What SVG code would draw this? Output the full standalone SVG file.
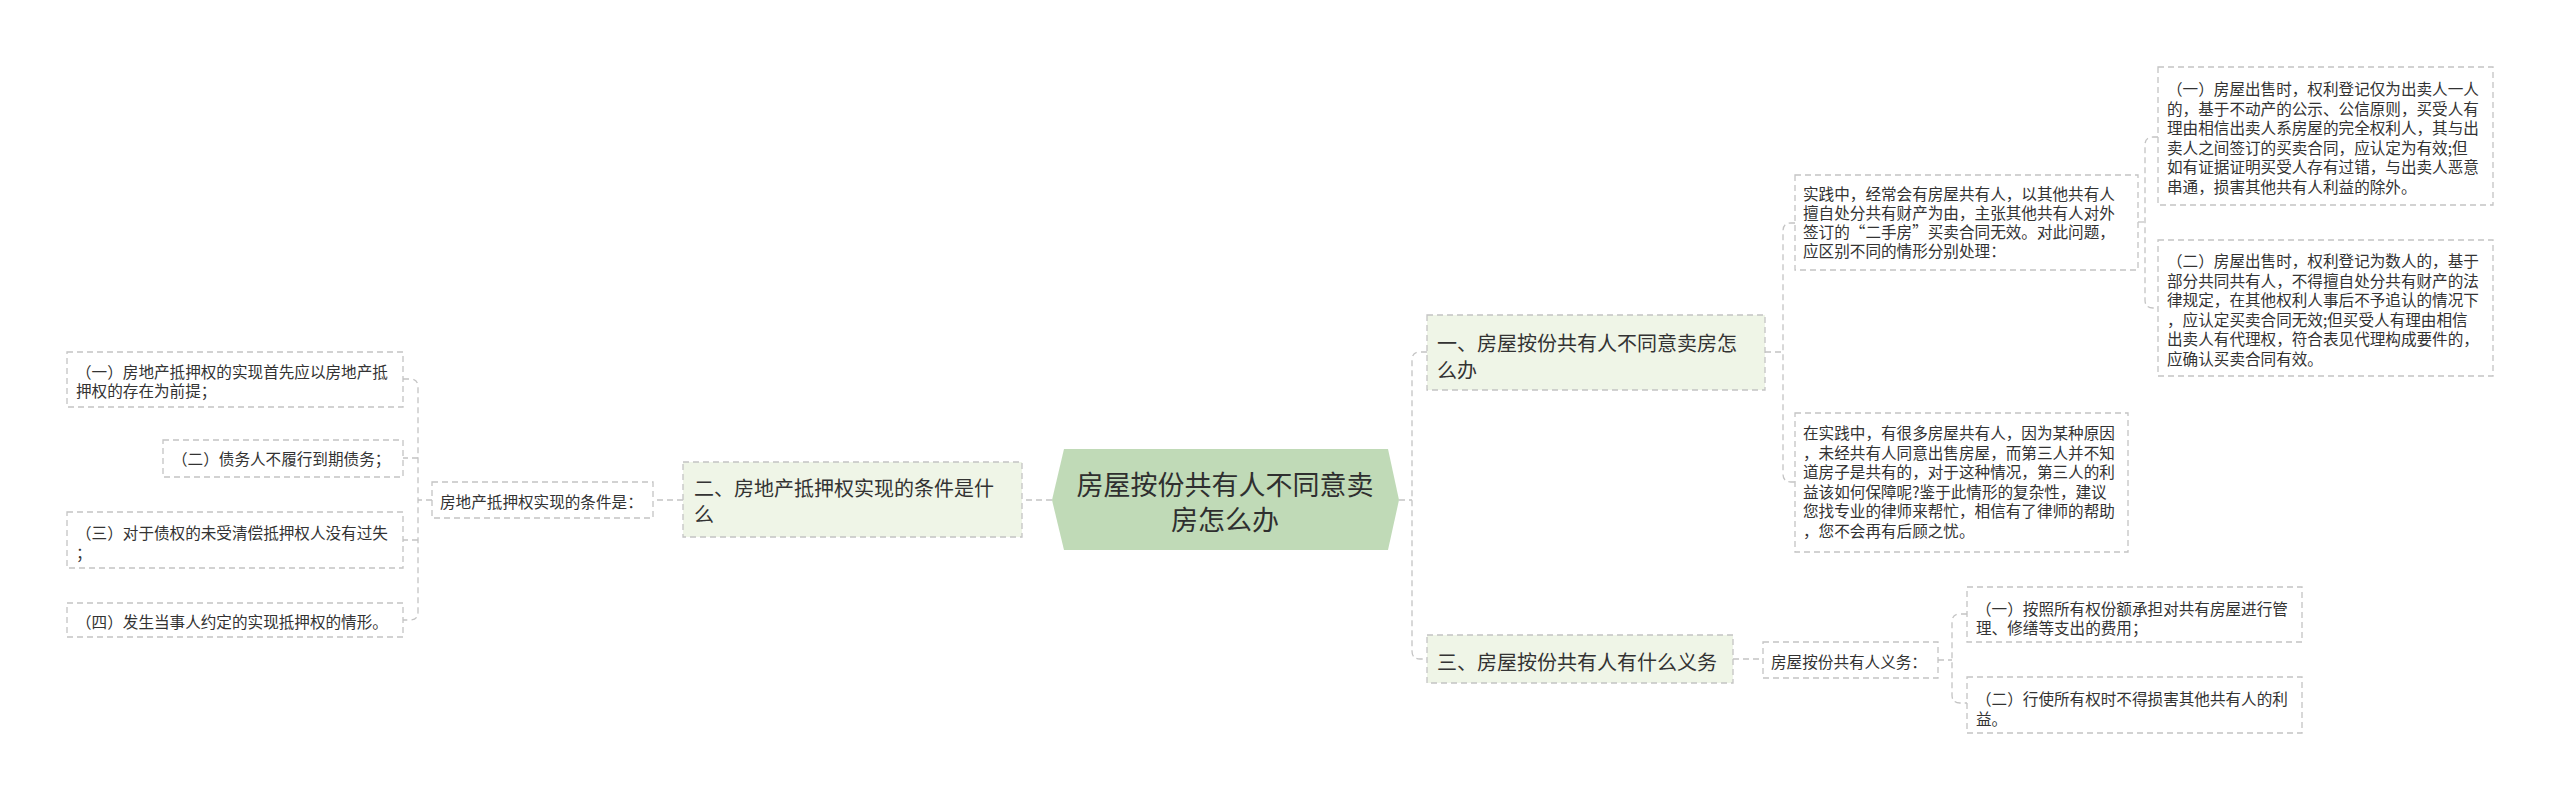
<svg xmlns="http://www.w3.org/2000/svg" width="2560" height="802" viewBox="0 0 2560 802">
<style>
text{font-family:"Noto Sans CJK SC","Noto Sans",sans-serif;fill:#333;dominant-baseline:central}
.leaf{fill:#fff;stroke:#c4c4c4;stroke-width:1.3;stroke-dasharray:6 4}
.main{fill:#eff5e7;stroke:#c4c4c4;stroke-width:1.3;stroke-dasharray:6 4}
.t1{font-size:20px}
.t2{font-size:15.6px}
.tc{font-size:27px;text-anchor:middle;fill:#2f2f2f}
.conn path{fill:none;stroke:#c4c4c4;stroke-width:1.3;stroke-dasharray:6 4}
</style>
<rect width="2560" height="802" fill="#fff"/>
<g class="conn">
<path d="M1052,500 H1022"/>
<path d="M683,500 H653"/>
<path d="M432,500 H418"/>
<path d="M403,379 H410 Q418,379 418,387 V612 Q418,620 410,620 H403"/>
<path d="M418,458 H403"/>
<path d="M418,540 H403"/>
<path d="M1399,500 H1412"/>
<path d="M1427,352 H1420 Q1412,352 1412,360 V651 Q1412,659 1420,659 H1427"/>
<path d="M1765,352 H1783"/>
<path d="M1795,223 H1791 Q1783,223 1783,231 V474 Q1783,482 1791,482 H1795"/>
<path d="M2138,222 H2145"/>
<path d="M2158,137 H2153 Q2145,137 2145,145 V300 Q2145,308 2153,308 H2158"/>
<path d="M1733,659 H1763"/>
<path d="M1938,660 H1952"/>
<path d="M1967,614 H1960 Q1952,614 1952,622 V695 Q1952,703 1960,703 H1967"/>
</g>
<g id="center">
<polygon points="1052,500 1064,449 1388,449 1399,500 1388,550 1064,550" fill="#c0dab7"/>
<text class="tc" x="1225" y="483">房屋按份共有人不同意卖</text>
<text class="tc" x="1225" y="518">房怎么办</text>
</g>
<g id="n2">
<rect class="main" x="683" y="462" width="339" height="75"/>
<text class="t1" x="694" y="487">二、房地产抵押权实现的条件是什</text>
<text class="t1" x="694" y="513">么</text>
</g>
<g id="n2a">
<rect class="leaf" x="432" y="482" width="221" height="36"/>
<text class="t2" x="440" y="501">房地产抵押权实现的条件是：</text>
</g>
<g id="n2a1">
<rect class="leaf" x="67" y="352" width="336" height="55"/>
<text class="t2" x="76" y="371">（一）房地产抵押权的实现首先应以房地产抵</text>
<text class="t2" x="76" y="390">押权的存在为前提；</text>
</g>
<g id="n2a2">
<rect class="leaf" x="163" y="440" width="240" height="37"/>
<text class="t2" x="172" y="458">（二）债务人不履行到期债务；</text>
</g>
<g id="n2a3">
<rect class="leaf" x="67" y="512" width="336" height="56"/>
<text class="t2" x="76" y="532">（三）对于债权的未受清偿抵押权人没有过失</text>
<text class="t2" x="76" y="552">；</text>
</g>
<g id="n2a4">
<rect class="leaf" x="67" y="603" width="336" height="34"/>
<text class="t2" x="76" y="621">（四）发生当事人约定的实现抵押权的情形。</text>
</g>
<g id="n1">
<rect class="main" x="1427" y="315" width="338" height="75"/>
<text class="t1" x="1437" y="342">一、房屋按份共有人不同意卖房怎</text>
<text class="t1" x="1437" y="369">么办</text>
</g>
<g id="n1a">
<rect class="leaf" x="1795" y="175" width="343" height="95"/>
<text class="t2" x="1803" y="193">实践中，经常会有房屋共有人，以其他共有人</text>
<text class="t2" x="1803" y="212">擅自处分共有财产为由，主张其他共有人对外</text>
<text class="t2" x="1803" y="231">签订的“二手房”买卖合同无效。对此问题，</text>
<text class="t2" x="1803" y="250">应区别不同的情形分别处理：</text>
</g>
<g id="n1a1">
<rect class="leaf" x="2158" y="67" width="335" height="138"/>
<text class="t2" x="2167" y="88">（一）房屋出售时，权利登记仅为出卖人一人</text>
<text class="t2" x="2167" y="107.5">的，基于不动产的公示、公信原则，买受人有</text>
<text class="t2" x="2167" y="127">理由相信出卖人系房屋的完全权利人，其与出</text>
<text class="t2" x="2167" y="146.5">卖人之间签订的买卖合同，应认定为有效;但</text>
<text class="t2" x="2167" y="166">如有证据证明买受人存有过错，与出卖人恶意</text>
<text class="t2" x="2167" y="185.5">串通，损害其他共有人利益的除外。</text>
</g>
<g id="n1a2">
<rect class="leaf" x="2158" y="240" width="335" height="136"/>
<text class="t2" x="2167" y="260">（二）房屋出售时，权利登记为数人的，基于</text>
<text class="t2" x="2167" y="279.5">部分共同共有人，不得擅自处分共有财产的法</text>
<text class="t2" x="2167" y="299">律规定，在其他权利人事后不予追认的情况下</text>
<text class="t2" x="2167" y="318.5">，应认定买卖合同无效;但买受人有理由相信</text>
<text class="t2" x="2167" y="338">出卖人有代理权，符合表见代理构成要件的，</text>
<text class="t2" x="2167" y="357.5">应确认买卖合同有效。</text>
</g>
<g id="n1b">
<rect class="leaf" x="1795" y="413" width="333" height="139"/>
<text class="t2" x="1803" y="432">在实践中，有很多房屋共有人，因为某种原因</text>
<text class="t2" x="1803" y="451.5">，未经共有人同意出售房屋，而第三人并不知</text>
<text class="t2" x="1803" y="471">道房子是共有的，对于这种情况，第三人的利</text>
<text class="t2" x="1803" y="490.5">益该如何保障呢?鉴于此情形的复杂性，建议</text>
<text class="t2" x="1803" y="510">您找专业的律师来帮忙，相信有了律师的帮助</text>
<text class="t2" x="1803" y="529.5">，您不会再有后顾之忧。</text>
</g>
<g id="n3">
<rect class="main" x="1427" y="635" width="306" height="48"/>
<text class="t1" x="1437" y="661">三、房屋按份共有人有什么义务</text>
</g>
<g id="n3a">
<rect class="leaf" x="1763" y="642" width="175" height="36"/>
<text class="t2" x="1771" y="661">房屋按份共有人义务：</text>
</g>
<g id="n3a1">
<rect class="leaf" x="1967" y="587" width="335" height="55"/>
<text class="t2" x="1976" y="608">（一）按照所有权份额承担对共有房屋进行管</text>
<text class="t2" x="1976" y="627">理、修缮等支出的费用；</text>
</g>
<g id="n3a2">
<rect class="leaf" x="1967" y="677" width="335" height="56"/>
<text class="t2" x="1976" y="698">（二）行使所有权时不得损害其他共有人的利</text>
<text class="t2" x="1976" y="718">益。</text>
</g>
</svg>
